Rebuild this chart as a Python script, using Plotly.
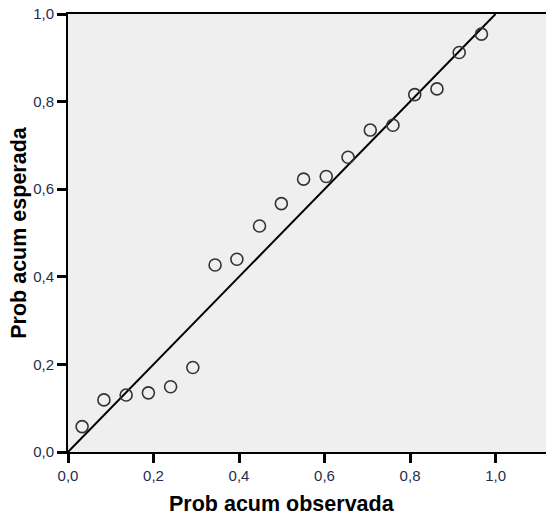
import plotly.graph_objects as go

observed = [0.033, 0.084, 0.136, 0.188, 0.240, 0.292, 0.344, 0.395, 0.448, 0.499,
            0.551, 0.604, 0.655, 0.707, 0.760, 0.811, 0.863, 0.915, 0.967]
expected = [0.058, 0.119, 0.130, 0.135, 0.149, 0.193, 0.427, 0.440, 0.516, 0.567,
            0.623, 0.629, 0.673, 0.735, 0.746, 0.816, 0.829, 0.912, 0.954]
ref_line = [0.0, 1.0]
tick_vals = [0.0, 0.2, 0.4, 0.6, 0.8, 1.0]
x_title = "Prob acum observada"
y_title = "Prob acum esperada"

fig = go.Figure()
fig.add_trace(go.Scatter(x=ref_line, y=ref_line, mode="lines",
                         line=dict(color="black", width=2), hoverinfo="skip"))
fig.add_trace(go.Scatter(x=observed, y=expected, mode="markers",
                         marker=dict(symbol="circle-open", size=12,
                                     color="#333333", line=dict(width=1.6))))

axis_font = dict(family="Liberation Sans, Arial", size=15, color="#1f2d4d")
title_font = dict(family="Liberation Sans, Arial", size=21.5, color="black")

fig.update_layout(
    width=547, height=515,
    margin=dict(l=68, r=1, t=14, b=63, autoexpand=False),
    paper_bgcolor="white", plot_bgcolor="#efefef",
    showlegend=False,
    separators=",.",
    xaxis=dict(range=[0, 1.118], tickvals=tick_vals, tickformat=".1f",
               showgrid=False, zeroline=False, showline=True, linecolor="black",
               linewidth=2, mirror=True, ticks="outside", ticklen=9, tickwidth=3,
               tickcolor="black", tickfont=axis_font, automargin=False,
               ticklabeloverflow="allow"),
    yaxis=dict(range=[0, 1.0], tickvals=tick_vals, tickformat=".1f",
               showgrid=False, zeroline=False, showline=True, linecolor="black",
               linewidth=2, ticks="outside", ticklen=9, tickwidth=3,
               tickcolor="black", tickfont=axis_font, automargin=False,
               ticklabeloverflow="allow",
               title=dict(text="<b>" + y_title + "</b>", font=title_font, standoff=1)),
    annotations=[dict(text="<b>" + x_title + "</b>", xref="x", x=0.5,
                      yref="paper", y=0, yanchor="middle", yshift=-52,
                      showarrow=False, font=title_font)],
)

fig.write_html("out.html", config={"displayModeBar": False},
               post_script="document.body.style.margin='0';document.body.style.overflow='hidden';")
